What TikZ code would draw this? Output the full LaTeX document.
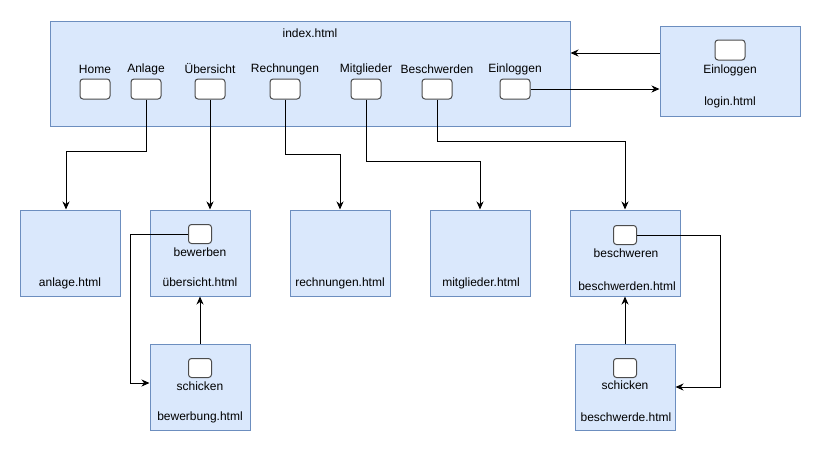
\documentclass[tikz,border=0pt]{standalone}
\usepackage{fontspec}
\setmainfont{Liberation Sans}
\usetikzlibrary{arrows.meta}

\definecolor{pagefill}{HTML}{DAE8FC}
\definecolor{pageline}{HTML}{6C8EBF}

\begin{document}
\begin{tikzpicture}[x=1pt,y=-1pt,
    font=\fontsize{12}{14}\selectfont,
    page/.style={draw=pageline,fill=pagefill,line width=1pt,inner sep=0pt},
    btn/.style={draw=black!70,fill=white,rounded corners=3pt,line width=1pt,
        minimum width=30pt,minimum height=20pt,inner sep=0pt},
    smallbtn/.style={btn,minimum width=23pt,minimum height=19pt},
    link/.style={line width=1pt,-{Stealth[length=8pt,width=7pt,inset=2.5pt]}}]

% Keep the size of the page.
\useasboundingbox (0,0) rectangle (821,455);

% Main page with its menu.
\node[page,minimum width=520pt,minimum height=105pt] (index) at (310,73.5) {};
\node (lblindex) at (310,33) {index.html};

% Loop for each menu button.
\foreach \x/\n/\t in {95/home/Home,146/anlage/Anlage,210/uebersicht/Übersicht,
    285/rechnungen/Rechnungen,366/mitglieder/Mitglieder,
    437/beschwerden/Beschwerden,515/einloggen/Einloggen} {

    % Draw each button.
    \node[btn] (btn\n) at (\x,89) {};

    % Label above the button.
    \node (lbl\n) at (\x,69) {\t};
}

% Login page.
\node[page,minimum width=140pt,minimum height=90pt] (login) at (730,71) {};
\node[btn] (btnlogin) at (730,50) {};
\node (lbllogin) at (730,70) {Einloggen};
\node (lblloginpage) at (730,102) {login.html};

% Pages in the lower row.
\node[page,minimum width=100pt,minimum height=86pt] (anlage) at (70,253) {};
\node (lblanlagepage) at (70,283) {anlage.html};

\node[page,minimum width=100pt,minimum height=86pt] (uebersicht) at (200,253) {};
\node[smallbtn] (btnbewerben) at (200,234) {};
\node (lblbewerben) at (200,252) {bewerben};
\node (lbluebersichtpage) at (200,282) {übersicht.html};

\node[page,minimum width=100pt,minimum height=86pt] (rechnungen) at (340,253) {};
\node (lblrechnungenpage) at (340,283) {rechnungen.html};

\node[page,minimum width=100pt,minimum height=86pt] (mitglieder) at (480,253) {};
\node (lblmitgliederpage) at (481,283) {mitglieder.html};

\node[page,minimum width=110pt,minimum height=86pt] (beschwerden) at (625,253) {};
\node[smallbtn] (btnbeschweren) at (625,235) {};
\node (lblbeschweren) at (626,253) {beschweren};
\node (lblbeschwerdenpage) at (627,286) {beschwerden.html};

% Form pages.
\node[page,minimum width=100pt,minimum height=86pt] (bewerbung) at (200,387) {};
\node[smallbtn] (btnschickena) at (200,368) {};
\node (lblschickena) at (200,386) {schicken};
\node (lblbewerbungpage) at (200,417) {bewerbung.html};

\node[page,minimum width=100pt,minimum height=86pt] (beschwerde) at (625,387) {};
\node[smallbtn] (btnschickenb) at (625,368) {};
\node (lblschickenb) at (625,385) {schicken};
\node (lblbeschwerdepage) at (626,417) {beschwerde.html};

% Menu links down to the pages.
\draw[link]
    (btnanlage.south)
    % go down, then left
    -- ++(0,52)
    -| ([xshift=-4pt]anlage.north);

\draw[link]
    (btnuebersicht.south)
    -- (btnuebersicht.south |- uebersicht.north);

\draw[link]
    (btnrechnungen.south)
    -- ++(0,55)
    -| (rechnungen.north);

\draw[link]
    (btnmitglieder.south)
    -- ++(0,62)
    -| (mitglieder.north);

\draw[link]
    (btnbeschwerden.south)
    -- ++(0,42)
    -| (beschwerden.north);

% Login links.
\draw[link]
    (btneinloggen.east)
    -- (btneinloggen.east -| login.west);

\draw[link]
    ([yshift=18pt]login.west)
    -- ([yshift=18pt]login.west -| index.east);

% Application form and back.
\draw[link]
    (btnbewerben.west)
    -- ++(-58,0)
    |- ([yshift=4pt]bewerbung.west);

\draw[link] (bewerbung.north) -- (uebersicht.south);

% Complaint form and back.
\draw[link]
    (btnbeschweren.east)
    -- ++(83,0)
    |- (beschwerde.east);

\draw[link] (beschwerde.north) -- (beschwerden.south);

\end{tikzpicture}
\end{document}
